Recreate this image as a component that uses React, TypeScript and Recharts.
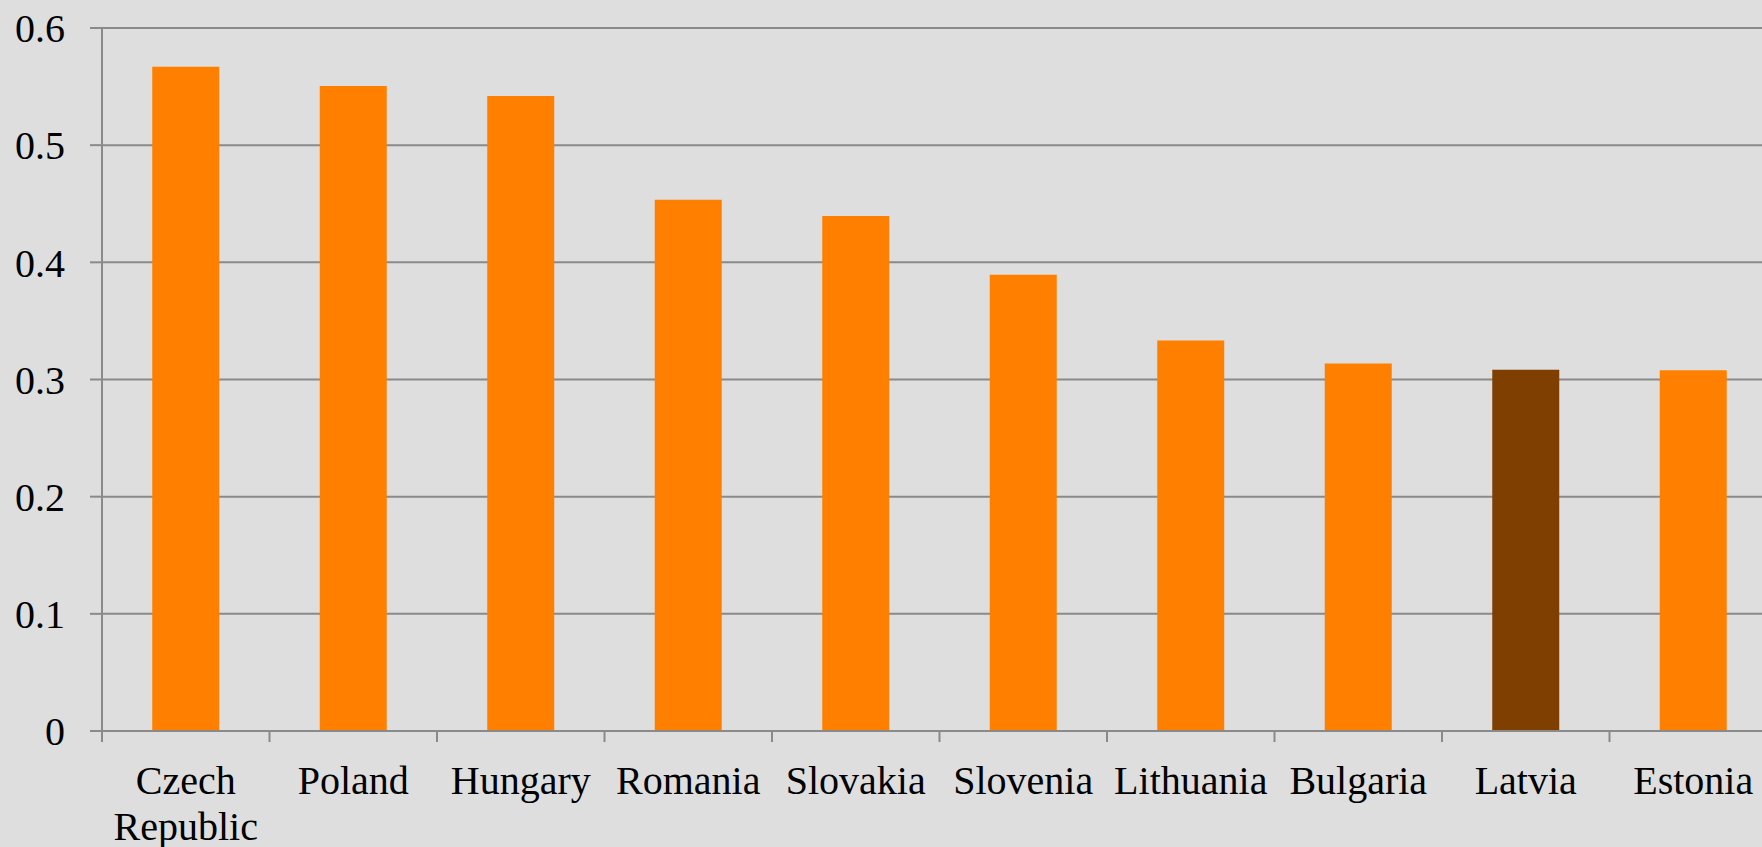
import { Bar, BarChart, CartesianGrid, Cell, XAxis, YAxis } from "recharts";

const countries = [
  "Czech Republic",
  "Poland",
  "Hungary",
  "Romania",
  "Slovakia",
  "Slovenia",
  "Lithuania",
  "Bulgaria",
  "Latvia",
  "Estonia",
];
const values = [0.567, 0.5505, 0.542, 0.4535, 0.4395, 0.3895, 0.3333, 0.3137, 0.3083, 0.308];
const highlight = "Latvia";
const yTicks = [0, 0.1, 0.2, 0.3, 0.4, 0.5, 0.6];

const data = countries.map((name, i) => ({ name, value: values[i] }));

const W = 1790;
const H = 847;
const LEFT = 102;
const RIGHT = 13;
const band = (W - LEFT - RIGHT) / countries.length;
const grey = "#8a8a8a";
const font = "'Liberation Serif', 'Times New Roman', serif";

function CategoryTick(props: any) {
  const { x, y, payload } = props;
  const label: string = payload.value;
  const lines = label.includes(" ") ? label.split(" ") : [label];
  const left = x - band / 2;
  return (
    <g>
      <line x1={left} y1={y - 22} x2={left} y2={y - 11} stroke={grey} strokeWidth={2} />
      <text x={x} y={y} textAnchor="middle" fill="#000" fontSize={40} fontFamily={font}>
        {lines.map((ln, i) => (
          <tspan key={i} x={x} dy={i === 0 ? 41 : 46}>
            {ln}
          </tspan>
        ))}
      </text>
    </g>
  );
}

export default function App() {
  return (
    <div
      style={{
        position: "fixed",
        left: 0,
        top: 0,
        width: 1762,
        height: 847,
        overflow: "hidden",
        background: "#dedede",
      }}
    >
      <BarChart
        width={W}
        height={H}
        data={data}
        margin={{ top: 28, right: RIGHT, bottom: 0, left: 0 }}
        barCategoryGap="30%"
      >
        <CartesianGrid vertical={false} stroke={grey} strokeWidth={2} />
        <XAxis
          dataKey="name"
          height={116}
          axisLine={{ stroke: grey, strokeWidth: 2 }}
          tickLine={false}
          tickSize={0}
          tickMargin={22}
          interval={0}
          tick={<CategoryTick />}
        />
        <YAxis
          width={LEFT}
          domain={[0, 0.6]}
          ticks={yTicks}
          axisLine={{ stroke: grey, strokeWidth: 2 }}
          tickLine={{ stroke: grey, strokeWidth: 2 }}
          tickSize={12}
          tickMargin={25}
          tick={{ fill: "#000", fontSize: 40, fontFamily: font }}
          tickFormatter={(v: number) => String(Math.round(v * 10) / 10)}
        />
        <Bar dataKey="value" isAnimationActive={false}>
          {data.map((d) => (
            <Cell key={d.name} fill={d.name === highlight ? "#7f3f00" : "#ff8000"} />
          ))}
        </Bar>
      </BarChart>
    </div>
  );
}
